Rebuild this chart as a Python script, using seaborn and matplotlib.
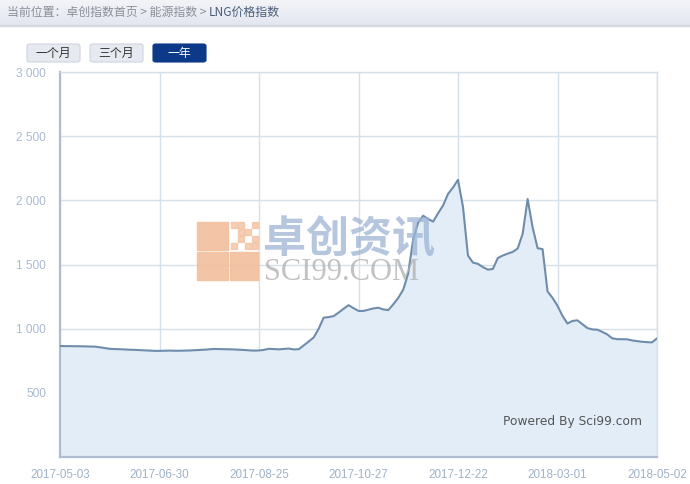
import matplotlib
matplotlib.use("Agg")
import matplotlib.pyplot as plt
import matplotlib.patches as mpatches
from matplotlib.ticker import FuncFormatter, FixedLocator
import numpy as np
import pandas as pd
import seaborn as sns

# ---------------- data ----------------
tick_labels = ["2017-05-03", "2017-06-30", "2017-08-25", "2017-10-27",
               "2017-12-22", "2018-03-01", "2018-05-02"]
tick_index = [0, 20, 40, 60, 80, 100, 120]

lng_index = [
    865, 864, 864, 863, 863, 862, 861, 860, 855, 849,
    843, 841, 840, 838, 836, 835, 833, 831, 829, 827,
    827, 828, 829, 828, 828, 829, 830, 832, 834, 836,
    839, 842, 841, 840, 839, 838, 836, 834, 831, 829,
    830, 835, 843, 841, 839, 842, 845, 838, 840, 870,
    900, 932, 1000, 1086, 1090, 1098, 1125, 1155, 1183, 1160,
    1138, 1138, 1148, 1158, 1163, 1150, 1145, 1190, 1240, 1305,
    1432, 1700, 1828, 1880, 1855, 1834, 1900, 1960, 2050, 2100,
    2160, 1950, 1570, 1515, 1505, 1480, 1460, 1465, 1550, 1570,
    1585, 1598, 1625, 1740, 2010, 1790, 1627, 1620, 1290, 1240,
    1178, 1100, 1040, 1060, 1065, 1035, 1005, 994, 992, 975,
    955, 925, 918, 918, 917, 908, 903, 898, 895, 893,
    925,
]
y_ticks = [500, 1000, 1500, 2000, 2500, 3000]

df = pd.DataFrame({"idx": np.arange(len(lng_index)), "value": lng_index})

# ---------------- style ----------------
sns.set_style("white")
plt.rcParams["font.family"] = ["Liberation Sans", "Noto Sans CJK SC", "DejaVu Sans"]

W, H = 690, 484
fig = plt.figure(figsize=(W / 100, H / 100), dpi=100)
fig.patch.set_facecolor("white")

def fx(px):
    return px / W

def fy(py):
    return 1 - py / H

# breadcrumb bar
bar = fig.add_axes([0, fy(26), 1, 26 / H])
grad = np.linspace(0, 1, 50).reshape(-1, 1)
bar.imshow(grad, aspect="auto", cmap=matplotlib.colors.LinearSegmentedColormap.from_list(
    "g", ["#f3f4f8", "#e2e6ef"]), extent=[0, 1, 0, 1])
bar.set_axis_off()
fig.add_artist(mpatches.Rectangle((0, fy(26)), 1, 1 / H, transform=fig.transFigure,
                                  color="#d3d8e2", zorder=5))
cjk = ["Noto Sans CJK SC", "DejaVu Sans"]
t1 = fig.text(fx(7), fy(12), "当前位置：卓创指数首页 > 能源指数 > ", fontsize=8.6,
              color="#8a8f99", va="center", ha="left", family=cjk)
fig.canvas.draw()
bb = t1.get_window_extent()
fig.text(bb.x1 / W, fy(12), "LNG价格指数", fontsize=8.6, color="#4a5d78",
         va="center", ha="left", family=cjk)

# buttons
buttons = [("一个月", 27, 80, "#e6e9f0", "#cfd5df", "#333333"),
           ("三个月", 90, 143, "#e6e9f0", "#cfd5df", "#333333"),
           ("一年", 153, 206, "#0c3a88", "#0c3a88", "white")]
for label, x0, x1, bg, ec, tc in buttons:
    fig.add_artist(mpatches.FancyBboxPatch((fx(x0), fy(62)), fx(x1 - x0), (62 - 44) / H,
                                           boxstyle="round,pad=0,rounding_size=0.004",
                                           transform=fig.transFigure, facecolor=bg,
                                           edgecolor=ec, linewidth=0.8))
    fig.text(fx((x0 + x1) / 2), fy(53.5), label, fontsize=8.6, color=tc,
             ha="center", va="center", family=cjk)

# main axes
ax = fig.add_axes([fx(60), fy(457), fx(657 - 60), (457 - 72) / H])
ax.set_facecolor("white")

ax.fill_between(df["idx"], df["value"], 0, color="#e3edf8", zorder=1, linewidth=0)
sns.lineplot(data=df, x="idx", y="value", ax=ax, color="#6f8dab", linewidth=1.5, zorder=4)

ax.set_xlim(0, len(lng_index) - 1)
ax.set_ylim(0, 3000)
ax.xaxis.set_major_locator(FixedLocator(tick_index))
ax.set_xticklabels(tick_labels)
ax.yaxis.set_major_locator(FixedLocator(y_ticks))
ax.yaxis.set_major_formatter(FuncFormatter(lambda v, p: f"{int(v):,}".replace(",", " ")))
ax.set_xlabel("")
ax.set_ylabel("")

ax.grid(True, color="#d6e0ea", linewidth=1, zorder=0)
ax.set_axisbelow(True)
for s in ["top", "right"]:
    ax.spines[s].set_color("#d6e0ea")
    ax.spines[s].set_linewidth(1)
for s in ["left", "bottom"]:
    ax.spines[s].set_color("#aebdd0")
    ax.spines[s].set_linewidth(1.6)

ax.tick_params(axis="y", length=7, width=1, color="#c3cfdc", pad=3,
               labelsize=8.6, labelcolor="#a9bbd0")
ax.tick_params(axis="x", length=8, width=1, color="#c3cfdc", pad=0.5,
               labelsize=8.4, labelcolor="#9fb2c8")

# watermark
logo_c = "#f2bf9c"
for (x0, y0, w, h) in [(197, 222, 31, 28), (197, 252, 31, 28), (230, 252, 28, 28)]:
    fig.add_artist(mpatches.Rectangle((fx(x0), fy(y0 + h)), fx(w), h / H,
                                      transform=fig.transFigure, color=logo_c,
                                      alpha=0.9, zorder=3))
small = [(231, 222), (238, 222), (245, 229), (252, 222), (238, 236), (252, 236),
         (245, 243), (231, 243), (252, 243), (238, 229)]
for (x0, y0) in small:
    fig.add_artist(mpatches.Rectangle((fx(x0), fy(y0 + 6)), fx(6), 6 / H,
                                      transform=fig.transFigure, color=logo_c,
                                      alpha=0.75, zorder=3))
fig.text(fx(263), fy(239), "卓创资讯", fontsize=31, color="#9cb4d4", alpha=0.75,
         ha="left", va="center", family=cjk, fontweight="bold", zorder=3)
fig.text(fx(264), fy(273), "SCI99.COM", fontsize=22, color="#b3b3b3", alpha=0.8,
         ha="left", va="center", family=["Liberation Serif", "DejaVu Serif"], zorder=3)

fig.text(fx(642), fy(421), "Powered By Sci99.com", fontsize=8.8, color="#555555",
         ha="right", va="center", family=["DejaVu Sans"])

fig.savefig("out.png", dpi=100)
